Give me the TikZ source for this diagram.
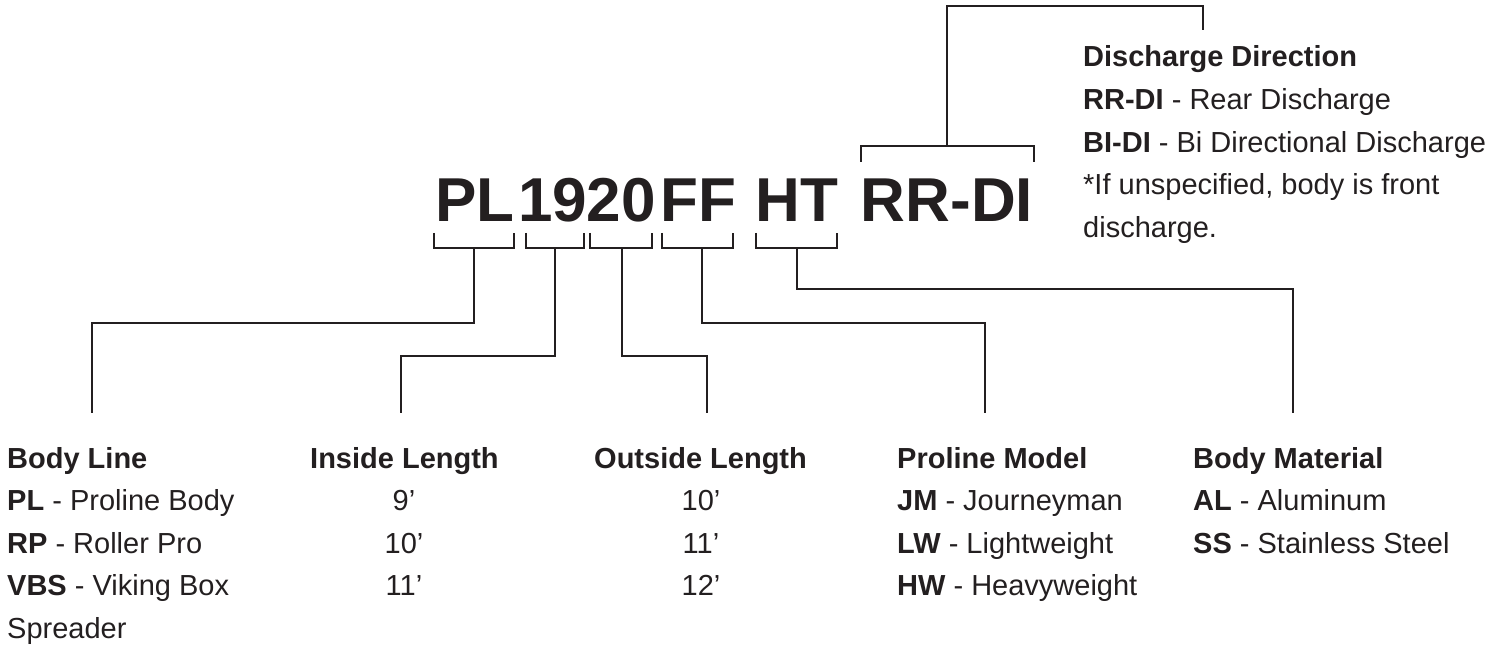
\documentclass[tikz,border=0pt]{standalone}
\usepackage{fontspec}
\setmainfont{Liberation Sans}
\definecolor{ink}{HTML}{231F20}

\begin{document}
\begin{tikzpicture}[
x=1pt, y=-1pt,
wire/.style={draw=ink, line width=2pt},
lbl/.style={anchor=base west, inner sep=0pt, text=ink, font=\fontsize{29}{35}\selectfont},
hd/.style={lbl, font=\fontsize{29}{35}\selectfont\bfseries},
val/.style={lbl, anchor=base},
code/.style={anchor=base, inner sep=0pt, text=ink, font=\fontsize{62}{70}\selectfont\bfseries}
]
\useasboundingbox (0,0) rectangle (1502,647);

% part number
\node[code] (pl) at (475,222) {PL};
\node[code] (len) at (587,222) {1920};
\node[code] (ff) at (698,222) {FF};
\node[code] (ht) at (797,222) {HT};
\node[code] (rrdi) at (947,222) {RR-DI};

% brackets
\foreach \a/\b in {434/514, 526/584, 590/652, 662/733, 756/837}
    \draw[wire] (\a,233) |- (\b,248) -- (\b,233);
\draw[wire] (861,162) |- (1034,146) -- (1034,162);

% legend columns
\node[hd] (bodyline) at (7,468) {Body Line};
\foreach \t [count=\i] in {{\textbf{PL} - Proline Body}, {\textbf{RP} - Roller Pro},
    {\textbf{VBS} - Viking Box}, Spreader}
    \node[lbl] (bodyline-\i) at (7,{468+42.6*\i}) {\t};

\node[hd] (inlen) at (310,468) {Inside Length};
\foreach \t [count=\i] in {9’, 10’, 11’}
    \node[val] (inlen-\i) at (404,{468+42.6*\i}) {\t};

\node[hd] (outlen) at (594,468) {Outside Length};
\foreach \t [count=\i] in {10’, 11’, 12’}
    \node[val] (outlen-\i) at (701,{468+42.6*\i}) {\t};

\node[hd] (model) at (897,468) {Proline Model};
\foreach \t [count=\i] in {{\textbf{JM} - Journeyman}, {\textbf{LW} - Lightweight},
    {\textbf{HW} - Heavyweight}}
    \node[lbl] (model-\i) at (897,{468+42.6*\i}) {\t};

\node[hd] (material) at (1193,468) {Body Material};
\foreach \t [count=\i] in {{\textbf{AL} - Aluminum}, {\textbf{SS} - Stainless Steel}}
    \node[lbl] (material-\i) at (1193,{468+42.6*\i}) {\t};

\node[hd] (discharge) at (1083,67) {Discharge Direction};
\foreach \t [count=\i] in {{\textbf{RR-DI} - Rear Discharge},
    {\textbf{BI-DI} - Bi Directional Discharge},
    {*If unspecified, body is front}, discharge.}
    \node[lbl] (discharge-\i) at (1083,{67+42.6*\i}) {\t};

% connectors
\coordinate (pl-s) at (474,248);
\coordinate (bodyline-e) at (92,413);
\coordinate (in-s) at (555,248);
\coordinate (inlen-e) at (401,413);
\coordinate (out-s) at (622,248);
\coordinate (outlen-e) at (707,413);
\coordinate (ff-s) at (702,248);
\coordinate (model-e) at (985,413);
\coordinate (ht-s) at (797,248);
\coordinate (material-e) at (1293,413);
\coordinate (rrdi-s) at (947,146);
\coordinate (discharge-e) at (1203,30);

\draw[wire] (pl-s) -- ++(0,75) -| (bodyline-e);
\draw[wire] (in-s) -- ++(0,108) -| (inlen-e);
\draw[wire] (out-s) -- ++(0,108) -| (outlen-e);
\draw[wire] (ff-s) -- ++(0,75) -| (model-e);
\draw[wire] (ht-s) -- ++(0,41) -| (material-e);
\draw[wire] (rrdi-s) -- ++(0,-140) -| (discharge-e);
\end{tikzpicture}
\end{document}
